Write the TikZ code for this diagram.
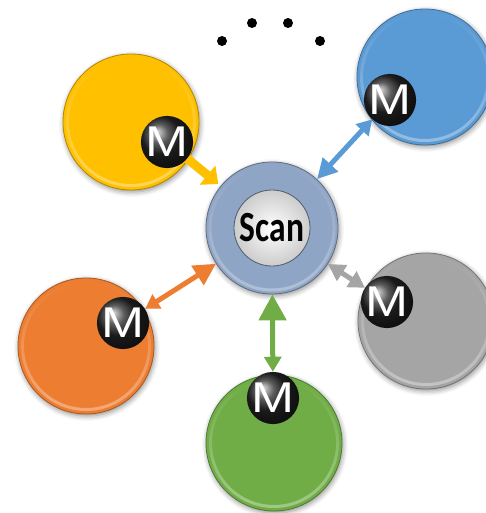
\documentclass[tikz,border=0pt]{standalone}
\usepackage{fontspec}
\setmainfont{Liberation Sans}
\newfontfamily\scanfont{Carlito}
\usetikzlibrary{arrows.meta,shadows.blur,fadings}

\definecolor{yellowc}{HTML}{FFC000}
\definecolor{bluec}{HTML}{5B9BD5}
\definecolor{grayc}{HTML}{A5A5A5}
\definecolor{greenc}{HTML}{70AD47}
\definecolor{orangec}{HTML}{ED7D31}
\definecolor{ringc}{HTML}{8FA5C5}

% badge letter, set a little wider than the plain font
\newcommand\wideM{\scalebox{1.2}[1]{M}}

\tikzset{
  disc/.style={circle, inner sep=0pt, minimum size=136pt, fill=#1, draw=#1!70!black, line width=0.8pt,
    blur shadow={shadow xshift=1pt, shadow yshift=-2pt, shadow blur radius=5pt, shadow opacity=45}},
  mball/.style={circle, inner sep=0pt, minimum size=48pt, shading=ball, ball color=black!85,
    text=white, font=\fontsize{43}{43}\selectfont},
  twoway/.style={line width=5pt, draw=#1},
  dotmark/.style={fill=black}
}

\begin{document}
\begin{tikzpicture}[x=1pt, y=-1pt]
  \useasboundingbox (0,0) rectangle (486,513);

  % colored discs
  \node[disc=yellowc] (yellow) at (131,122) {};
  \node[disc=bluec]   (blue)   at (425,77)  {};
  \node[disc=grayc]   (gray)   at (426,321) {};
  \node[disc=greenc]  (green)  at (274,443) {};
  \node[disc=orangec] (orange) at (86,346)  {};

  % bevel highlight along the upper rim of each disc
  \foreach \d in {yellow,blue,gray,green,orange}
    \draw[white, opacity=0.35, line width=3pt, path fading=north] (\d.center) circle (63.5pt);

  % central ring with the scanner label
  \node[circle, inner sep=0pt, minimum size=132pt, fill=ringc, draw=ringc!65!black, line width=0.8pt,
    blur shadow={shadow xshift=1pt, shadow yshift=-2pt, shadow blur radius=5pt, shadow opacity=45}]
    (ring) at (272,228) {};
  \draw[white, opacity=0.3, line width=3pt, path fading=north] (ring.center) circle (62pt);
  \node[circle, inner sep=0pt, minimum size=76pt, inner color=white, outer color=gray!40,
    draw=ringc!55!black, line width=0.8pt] (scan) at (272,228)
    {\scanfont\bfseries\fontsize{43}{43}\selectfont\scalebox{0.78}[1]{Scan}};

  % module badges
  \node[mball] (mY) at (167,142) {\wideM};
  \node[mball] (mB) at (390,100) {\wideM};
  \node[mball] (mG) at (387,302) {\wideM};
  \node[mball] (mN) at (273,398) {\wideM};
  \node[mball] (mO) at (123,323) {\wideM};

  % connectors
  \draw[line width=9pt, draw=yellowc, -{Triangle[length=14pt,width=24pt]}, shorten >=3pt] (mY) -- (ring);
  \draw[twoway=bluec, {Triangle[length=20pt,width=20pt]}-{Triangle[length=15pt,width=17pt]}] (ring) -- (mB);
  \draw[twoway=grayc, {Triangle[length=17pt,width=18pt]}-{Triangle[length=16pt,width=18pt]}] (ring) -- (mG);
  \draw[twoway=greenc, {Triangle[length=26pt,width=27pt]}-{Triangle[length=15pt,width=17pt]}] (ring) -- (mN);
  \draw[twoway=orangec, {Triangle[length=22pt,width=22pt]}-{Triangle[length=14pt,width=16pt]}] (ring) -- (mO);

  % ellipsis dots for further modules
  \fill[dotmark] (222,41) circle (5pt);
  \fill[dotmark] (252,23) circle (5pt);
  \fill[dotmark] (288,23) circle (5pt);
  \fill[dotmark] (320,41) circle (5pt);
\end{tikzpicture}
\end{document}
